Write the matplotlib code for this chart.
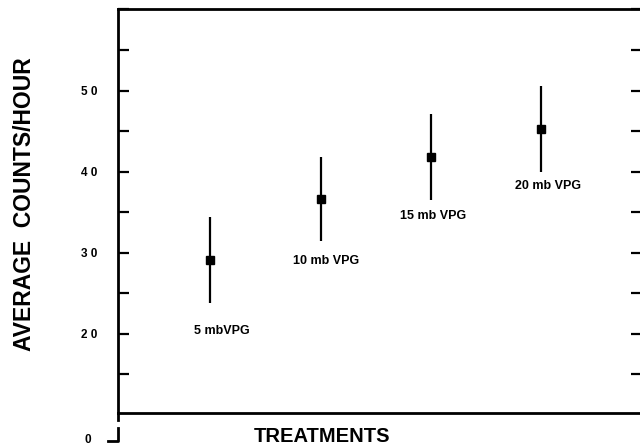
import matplotlib
matplotlib.use("Agg")
import matplotlib.pyplot as plt
from matplotlib.ticker import MultipleLocator

# treatments and average counts
treatments = ["5 mbVPG", "10 mb VPG", "15 mb VPG", "20 mb VPG"]
avg_counts = [29.1, 36.6, 41.8, 45.3]
err_counts = [5.3, 5.2, 5.3, 5.3]

# label offsets below the error bar (points)
label_offsets = [(8, -16), (4, -10), (2, -7), (5, -6)]

plt.rcParams['font.family'] = ['Liberation Sans', 'DejaVu Sans']

fig = plt.figure(figsize=(6.4, 4.47), dpi=100)
ax = fig.add_axes([118 / 640, 34 / 447, 524 / 640, 404 / 447])

x = list(range(len(treatments)))
ax.errorbar(x, avg_counts, yerr=err_counts, fmt='s', color='black',
            markersize=6, elinewidth=1.6, capsize=0)

for i, name in enumerate(treatments):
    ax.annotate(name, (x[i], avg_counts[i] - err_counts[i]),
                xytext=label_offsets[i], textcoords='offset points',
                ha='center', va='top', fontsize=9, fontweight='bold')

ax.set_xlim(-0.84, 3.92)
ax.set_ylim(10.25, 60.05)

ax.yaxis.set_major_locator(MultipleLocator(10))
ax.yaxis.set_minor_locator(MultipleLocator(5))
ax.set_yticks([20, 30, 40, 50])
ax.set_yticklabels(['2 0', '3 0', '4 0', '5 0'])
ax.tick_params(axis='y', which='both', direction='in', length=8, width=1.6,
               right=True, labelsize=8.5, pad=15)
for lab in ax.get_yticklabels():
    lab.set_fontweight('bold')
ax.set_xticks([])

for side in ['left', 'bottom', 'top', 'right']:
    ax.spines[side].set_linewidth(2)

# axis break down to zero
ybx = ax.get_yaxis_transform()
ax.plot([0, 0], [10.25, 9.4], color='black', lw=2, transform=ybx, clip_on=False)
ax.plot([0, 0, -0.02], [8.4, 6.8, 6.8], color='black', lw=2, transform=ybx, clip_on=False)
ax.text(-0.057, 6.9, '0', transform=ybx, ha='center', va='center',
        fontsize=8.5, fontweight='bold')

ax.set_xlabel('TREATMENTS', fontsize=14.5, fontweight='bold')
ax.xaxis.set_label_coords(0.39, -0.035)
ax.set_ylabel('AVERAGE  COUNTS/HOUR', fontsize=16.5, fontweight='bold')
ax.yaxis.set_label_coords(-0.156, 0.517)

fig.savefig('out.png', dpi=100)
